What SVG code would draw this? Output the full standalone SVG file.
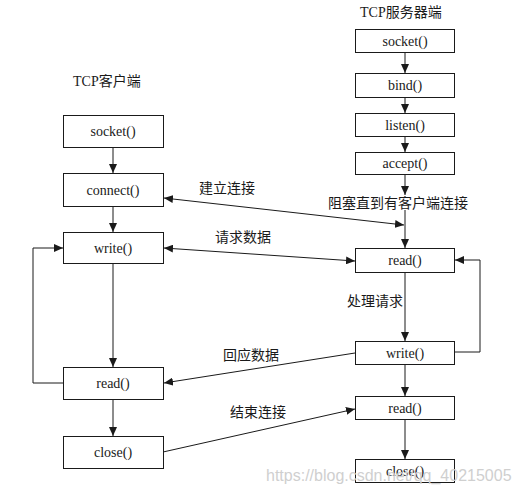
<svg xmlns="http://www.w3.org/2000/svg" width="519" height="496" viewBox="0 0 519 496">
<style>
.box{fill:#fff;stroke:#1a1a1a;stroke-width:1}
.fn{font-family:"Liberation Serif","Times New Roman",serif;font-size:14px;fill:#1a1a1a;text-anchor:middle}
.lbl{font-family:"Noto Sans CJK SC","Noto Sans",sans-serif;font-size:14px;fill:#1a1a1a}
.ttl{font-family:"Liberation Serif","Noto Sans CJK SC",serif;font-size:14px;fill:#1a1a1a}
.ln{fill:none;stroke:#1a1a1a;stroke-width:1}
.wm{font-family:"Liberation Sans",Arial,sans-serif;font-size:16px;fill:#cfcfcf}
</style>
<defs>
<marker id="ah" markerUnits="userSpaceOnUse" markerWidth="10" markerHeight="8" refX="9" refY="4" orient="auto-start-reverse">
<path d="M0,0 L9,4 L0,8 Z" fill="#1a1a1a"/>
</marker>
</defs>
<rect width="519" height="496" fill="#fff"/>
<text class="ttl" x="73" y="86">TCP客户端</text>
<text class="ttl" x="360" y="17">TCP服务器端</text>

<g id="connectors">
<line class="ln" x1="113" y1="147" x2="113" y2="173" marker-end="url(#ah)"/>
<line class="ln" x1="113" y1="206" x2="113" y2="232" marker-end="url(#ah)"/>
<line class="ln" x1="113" y1="263" x2="113" y2="367" marker-end="url(#ah)"/>
<line class="ln" x1="113" y1="399" x2="113" y2="436" marker-end="url(#ah)"/>
<polyline class="ln" points="63,383 33,383 33,248 63,248" marker-end="url(#ah)"/>
<line class="ln" x1="405" y1="52" x2="405" y2="73" marker-end="url(#ah)"/>
<line class="ln" x1="405" y1="97" x2="405" y2="113" marker-end="url(#ah)"/>
<line class="ln" x1="405" y1="136" x2="405" y2="152" marker-end="url(#ah)"/>
<line class="ln" x1="405" y1="174" x2="405" y2="195" marker-end="url(#ah)"/>
<line class="ln" x1="405" y1="210" x2="405" y2="248" marker-end="url(#ah)"/>
<line class="ln" x1="405" y1="272" x2="405" y2="341" marker-end="url(#ah)"/>
<line class="ln" x1="405" y1="364" x2="405" y2="396" marker-end="url(#ah)"/>
<line class="ln" x1="405" y1="419" x2="405" y2="459" marker-end="url(#ah)"/>
<polyline class="ln" points="454,352 480,352 480,260 455,260" marker-end="url(#ah)"/>
<line class="ln" x1="164" y1="198" x2="404" y2="225" marker-start="url(#ah)" marker-end="url(#ah)"/>
<line class="ln" x1="164" y1="248" x2="355" y2="261" marker-start="url(#ah)" marker-end="url(#ah)"/>
<line class="ln" x1="355" y1="353" x2="164" y2="383" marker-end="url(#ah)"/>
<line class="ln" x1="163" y1="452" x2="355" y2="409" marker-end="url(#ah)"/>
</g>

<text class="lbl" x="199" y="193">建立连接</text>
<text class="lbl" x="215" y="242">请求数据</text>
<text class="lbl" x="223" y="360">回应数据</text>
<text class="lbl" x="230" y="417">结束连接</text>
<text class="lbl" x="328" y="208">阻塞直到有客户端连接</text>
<text class="lbl" x="347" y="306">处理请求</text>

<g id="c-socket"><rect class="box" x="63.5" y="115.5" width="100" height="32"/><text class="fn" x="113" y="136">socket()</text></g>
<g id="c-connect"><rect class="box" x="63.5" y="173.5" width="100" height="33"/><text class="fn" x="113" y="195">connect()</text></g>
<g id="c-write"><rect class="box" x="63.5" y="232.5" width="100" height="31"/><text class="fn" x="113" y="253">write()</text></g>
<g id="c-read"><rect class="box" x="63.5" y="367.5" width="100" height="32"/><text class="fn" x="113" y="388">read()</text></g>
<g id="c-close"><rect class="box" x="63.5" y="436.5" width="100" height="32"/><text class="fn" x="113" y="457">close()</text></g>

<g id="s-socket"><rect class="box" x="355.5" y="29.5" width="99" height="23"/><text class="fn" x="405" y="46">socket()</text></g>
<g id="s-bind"><rect class="box" x="355.5" y="73.5" width="99" height="24"/><text class="fn" x="405" y="90">bind()</text></g>
<g id="s-listen"><rect class="box" x="355.5" y="113.5" width="99" height="23"/><text class="fn" x="405" y="130">listen()</text></g>
<g id="s-accept"><rect class="box" x="355.5" y="152.5" width="99" height="22"/><text class="fn" x="405" y="168">accept()</text></g>
<g id="s-read1"><rect class="box" x="355.5" y="248.5" width="99" height="24"/><text class="fn" x="405" y="265">read()</text></g>
<g id="s-write"><rect class="box" x="355.5" y="341.5" width="99" height="23"/><text class="fn" x="405" y="358">write()</text></g>
<g id="s-read2"><rect class="box" x="355.5" y="396.5" width="99" height="23"/><text class="fn" x="405" y="413">read()</text></g>
<g id="s-close"><rect class="box" x="355.5" y="459.5" width="99" height="23"/><text class="fn" x="405" y="476">close()</text></g>

<text class="wm" x="266" y="481">https://blog.csdn.net/qq_40215005</text>
</svg>
